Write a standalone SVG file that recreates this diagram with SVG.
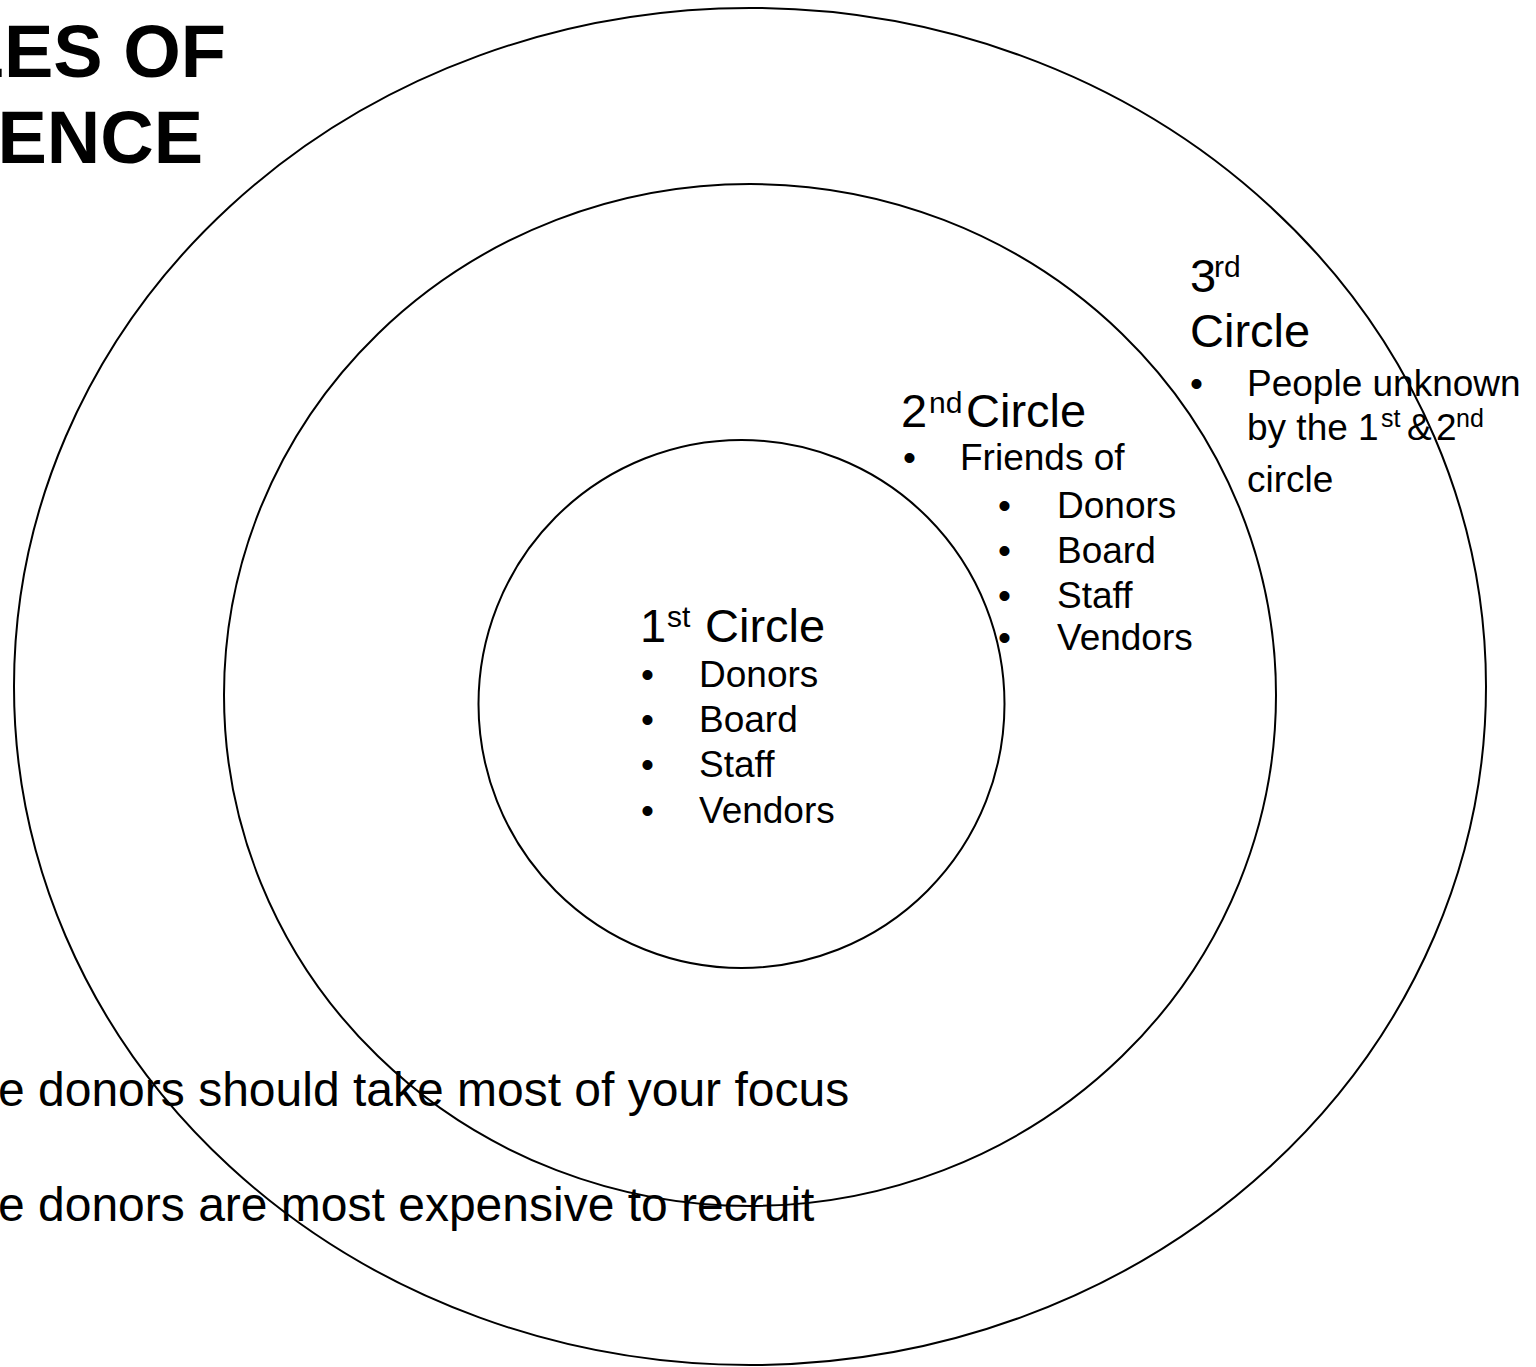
<svg xmlns="http://www.w3.org/2000/svg" width="1536" height="1367" viewBox="0 0 1536 1367">
<style>
text { font-family: "Liberation Sans", Arial, sans-serif; fill: #000; }
.title { font-size: 74px; font-weight: bold; }
.head { font-size: 47px; }
.hsup { font-size: 30px; }
.item { font-size: 37px; }
.isup { font-size: 25px; }
.note { font-size: 48px; }
.ring { fill: none; stroke: #000; stroke-width: 2; }
</style>
<rect x="0" y="0" width="1536" height="1367" fill="#fff"/>
<g id="title">
<text class="title" x="226" y="77" text-anchor="end">LES OF</text>
<text class="title" x="203" y="163" text-anchor="end">ENCE</text>
</g>
<g id="notes">
<text class="note" x="-2" y="1106">e donors should take most of your focus</text>
<text class="note" x="-2" y="1221">e donors are most expensive to recruit</text>
</g>
<g id="circle1-label">
<text class="head" y="642"><tspan x="640">1</tspan><tspan class="hsup" x="667" y="627">st</tspan><tspan x="705" y="642">Circle</tspan></text>
<text class="item" x="641" y="687">•</text><text class="item" x="699" y="687">Donors</text>
<text class="item" x="641" y="732">•</text><text class="item" x="699" y="732">Board</text>
<text class="item" x="641" y="777">•</text><text class="item" x="699" y="777">Staff</text>
<text class="item" x="641" y="823">•</text><text class="item" x="699" y="823">Vendors</text>
</g>
<g id="circle2-label">
<text class="head" y="427"><tspan x="901">2</tspan><tspan class="hsup" x="929" y="413">nd</tspan><tspan x="966" y="427">Circle</tspan></text>
<text class="item" x="903" y="470">•</text><text class="item" x="960" y="470">Friends of</text>
<text class="item" x="998" y="518">•</text><text class="item" x="1057" y="518">Donors</text>
<text class="item" x="998" y="563">•</text><text class="item" x="1057" y="563">Board</text>
<text class="item" x="998" y="608">•</text><text class="item" x="1057" y="608">Staff</text>
<text class="item" x="998" y="650">•</text><text class="item" x="1057" y="650">Vendors</text>
</g>
<g id="circle3-label">
<text class="head" y="292"><tspan x="1190">3</tspan><tspan class="hsup" x="1214" y="277">rd</tspan></text>
<text class="head" x="1190" y="347">Circle</text>
<text class="item" x="1190" y="396">•</text><text class="item" x="1247" y="396">People unknown</text>
<text class="item" y="440"><tspan x="1247">by the 1</tspan><tspan class="isup" x="1381" y="427">st</tspan><tspan x="1407" y="440">&amp; </tspan><tspan x="1436" y="440">2</tspan><tspan class="isup" x="1456" y="427">nd</tspan></text>
<text class="item" x="1247" y="492">circle</text>
</g>
<g id="circle3"><ellipse class="ring" cx="750" cy="686.5" rx="736" ry="678.5"/></g>
<g id="circle2"><ellipse class="ring" cx="750" cy="695" rx="526" ry="511"/></g>
<g id="circle1"><ellipse class="ring" cx="741.5" cy="704" rx="263" ry="264"/></g>
<g id="connectors"/>
</svg>
